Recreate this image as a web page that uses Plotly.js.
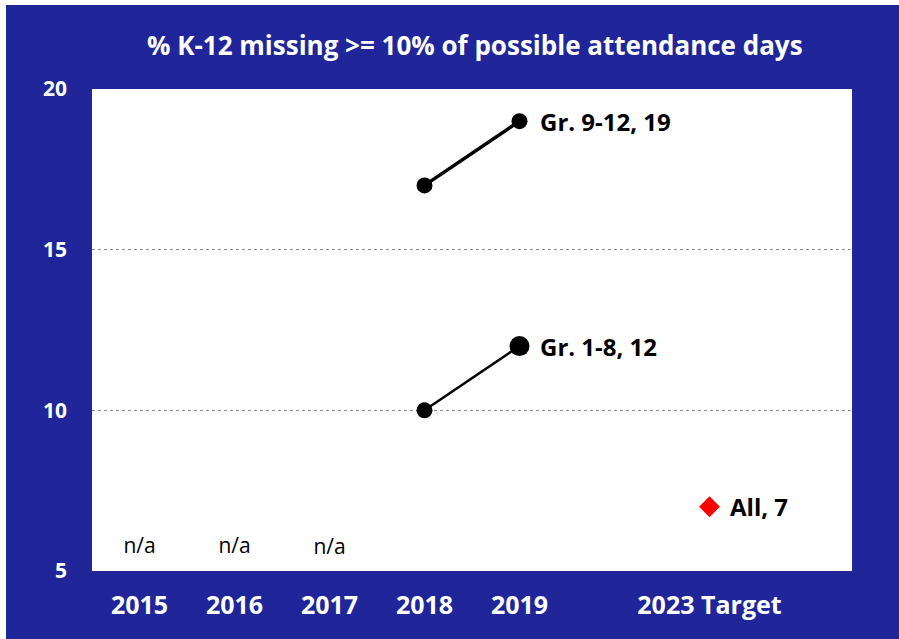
<!DOCTYPE html>
<html>
<head>
<meta charset="utf-8">
<script src="https://cdn.plot.ly/plotly-3.0.1.min.js"></script>
<style>
html, body { margin: 0; padding: 0; background: #ffffff; width: 899px; height: 639px; overflow: hidden; }
#chart { position: absolute; left: 6px; top: 5px; width: 893px; height: 634px; }
</style>
</head>
<body>
<div id="chart"></div>
<script>
// Category slots (index 5 is an empty spacer slot, index 7 trailing space)
const tickPositions = [0, 1, 2, 3, 4, 6];
const tickLabels = ["2015", "2016", "2017", "2018", "2019", "2023 Target"];

const gr912X = [3, 4];
const gr912Y = [17, 19];
const gr18X = [3, 4];
const gr18Y = [10, 12];
const targetX = [6];
const targetY = [7];
const naX = [0, 1, 2];
const naY = [5.73, 5.73, 5.68];
const naText = ["n/a", "n/a", "n/a"];

const blue = "#20269A";
const fam = "'Open Sans', Lato, sans-serif";
const labelFont = { family: fam, size: 24, color: "#000000", weight: 700 };

const traces = [
  {
    x: gr912X, y: gr912Y, type: "scatter", mode: "lines+markers",
    line: { color: "#000000", width: 3.5 },
    marker: { color: "#000000", size: [16, 16], opacity: 1, line: { width: 0 } },
    opacity: 1,
    hoverinfo: "skip"
  },
  {
    x: gr18X, y: gr18Y, type: "scatter", mode: "lines+markers",
    line: { color: "#000000", width: 2.5 },
    marker: { color: "#000000", size: [16, 20], opacity: 1, line: { width: 0 } },
    opacity: 1,
    hoverinfo: "skip"
  },
  {
    x: targetX, y: targetY, type: "scatter", mode: "markers",
    marker: { color: "#FF0000", symbol: "diamond", size: 16, opacity: 1, line: { width: 0 } },
    hoverinfo: "skip"
  },
  {
    x: naX, y: naY, type: "scatter", mode: "text", text: naText,
    textposition: "middle center",
    textfont: { family: fam, size: 21, color: "#000000" },
    hoverinfo: "skip"
  }
];

const annotations = [
  { x: gr912X[1], y: gr912Y[1], text: "Gr. 9-12, " + gr912Y[1] },
  { x: gr18X[1], y: gr18Y[1], text: "Gr. 1-8, " + gr18Y[1] },
  { x: targetX[0], y: targetY[0], text: "All, " + targetY[0] }
].map(a => Object.assign({
  xref: "x", yref: "y", xanchor: "left", yanchor: "middle",
  xshift: 18, showarrow: false, font: labelFont
}, a));

const layout = {
  width: 893, height: 634,
  paper_bgcolor: blue,
  plot_bgcolor: "#ffffff",
  margin: { l: 86, r: 47, t: 84, b: 68 },
  showlegend: false,
  title: {
    text: "% K-12 missing >= 10% of possible attendance days",
    font: { family: fam, size: 26, color: "#ffffff", weight: 700 },
    x: 0.525, xanchor: "center", y: 0.935, yanchor: "middle"
  },
  xaxis: {
    range: [-0.5, 7.5],
    tickmode: "array", tickvals: tickPositions, ticktext: tickLabels,
    showgrid: false, zeroline: false, showline: false, ticks: "",
    tickfont: { family: fam, size: 25, color: "#ffffff", weight: 700 },
    ticklabelstandoff: 17,
    fixedrange: true
  },
  yaxis: {
    range: [5, 20],
    tickmode: "array", tickvals: [5, 10, 15, 20],
    showgrid: true, gridcolor: "#8c8c8c", griddash: "dot", gridwidth: 1.5,
    zeroline: false, showline: false, ticks: "",
    tickfont: { family: fam, size: 21, color: "#ffffff", weight: 700 },
    ticklabelstandoff: 24,
    fixedrange: true
  },
  annotations: annotations
};

Plotly.newPlot("chart", traces, layout, { displayModeBar: false, staticPlot: true });
</script>
</body>
</html>
